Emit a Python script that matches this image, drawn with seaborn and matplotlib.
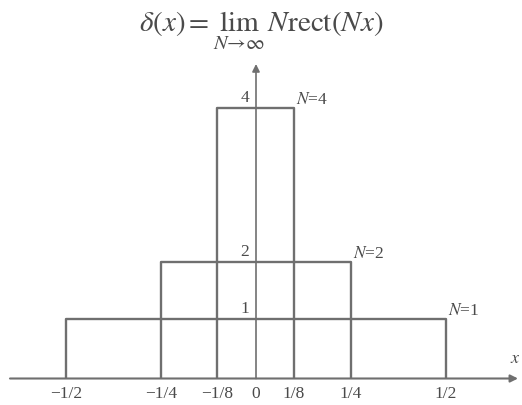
import numpy as np
import pandas as pd
import matplotlib
matplotlib.use("Agg")
import matplotlib.pyplot as plt
import seaborn as sns

# ---- data ----
N_values = [1, 2, 4]
tick_values = [-1/2, -1/4, -1/8, 0, 1/8, 1/4, 1/2]
tick_labels = ["\u22121/2", "\u22121/4", "\u22121/8", "0", "1/8", "1/4", "1/2"]

# schematic (non-linear) axis layout of the original drawing
x_knots_data = [-1.5, -1/2, -1/4, -1/8, 0, 1/8, 1/4, 1/2, 1.5]
x_knots_px = [66 - 380, 66, 161, 217, 256, 294, 350.5, 446, 446 + 380]
y_knots_data = [-1, 0, 1, 2, 4, 6]
y_knots_px = [26.5 - 59.5, 26.5, 86, 143, 297, 297 + 154]

W, H = 522, 406
LINE = "#6f6f6f"
TEXT = "#4a4a4a"

sns.set_theme(style="white")
plt.rcParams["font.family"] = ["Liberation Serif", "DejaVu Serif"]
plt.rcParams["mathtext.fontset"] = "stix"

rows = []
for N in N_values:
    h = 1 / (2 * N)
    for xv, yv in [(-h, 0), (-h, N), (h, N), (h, 0)]:
        rows.append({"N": N, "x": xv, "y": yv})
df = pd.DataFrame(rows)

fig = plt.figure(figsize=(W / 100, H / 100), dpi=100)
fig.patch.set_facecolor("white")
bottom = 26.5 / H
ax = fig.add_axes([0, bottom, 1, 1 - bottom])
ax.set_facecolor("none")

fx = lambda v: np.interp(v, x_knots_data, x_knots_px)
ix = lambda p: np.interp(p, x_knots_px, x_knots_data)
fy = lambda v: np.interp(v, y_knots_data, y_knots_px)
iy = lambda p: np.interp(p, y_knots_px, y_knots_data)
ax.set_xscale("function", functions=(fx, ix))
ax.set_yscale("function", functions=(fy, iy))

sns.lineplot(data=df, x="x", y="y", units="N", estimator=None, sort=False,
             color=LINE, lw=1.7, ax=ax, legend=False)

ax.set_xlim(float(ix(0)), float(ix(W)))
ax.set_ylim(0, float(iy(H)))

for s in ax.spines.values():
    s.set_visible(False)
ax.set_xticks(tick_values)
ax.set_xticklabels(tick_labels)
ax.set_yticks([])
ax.tick_params(axis="x", length=0, pad=5, labelsize=12.5, labelcolor=TEXT)
ax.set_xlabel("")
ax.set_ylabel("")
ax.grid(False)

# x axis arrow
ax.annotate("", xy=(518 / W, 0), xytext=(10 / W, 0), xycoords="axes fraction",
            textcoords="axes fraction", annotation_clip=False,
            arrowprops=dict(arrowstyle="-|>", color=LINE, lw=1.5,
                            mutation_scale=11, shrinkA=0, shrinkB=0))
# y axis arrow
ytop = (H - 65 - 26.5) / (H - 26.5)
ax.annotate("", xy=(0, ytop), xytext=(0, 0), xycoords=ax.get_xaxis_transform(),
            textcoords=ax.get_xaxis_transform(), annotation_clip=False,
            arrowprops=dict(arrowstyle="-|>", color=LINE, lw=1.2,
                            mutation_scale=11, shrinkA=0, shrinkB=0))

ax.text(1 - 7 / W, 12 / (H - 26.5), "$x$", transform=ax.transAxes,
        ha="center", va="bottom", fontsize=13, color=TEXT)

for N in N_values:
    ax.annotate(str(N), xy=(0, N), xytext=(-5, 2), textcoords="offset points",
                ha="right", va="bottom", fontsize=12.5, color=TEXT)
    ax.annotate(f"$N$={N}", xy=(1 / (2 * N), N), xytext=(1.5, 0.5),
                textcoords="offset points", ha="left", va="bottom",
                fontsize=12.5, color=TEXT)

fig.text(0.5, 1 - 9 / H,
         r"$\delta\left(x\right)=\lim_{N\to\infty}\,N\mathrm{rect}\left(Nx\right)$",
         ha="center", va="top", fontsize=21, color=TEXT)

fig.savefig("out.png", dpi=100, facecolor="white")
